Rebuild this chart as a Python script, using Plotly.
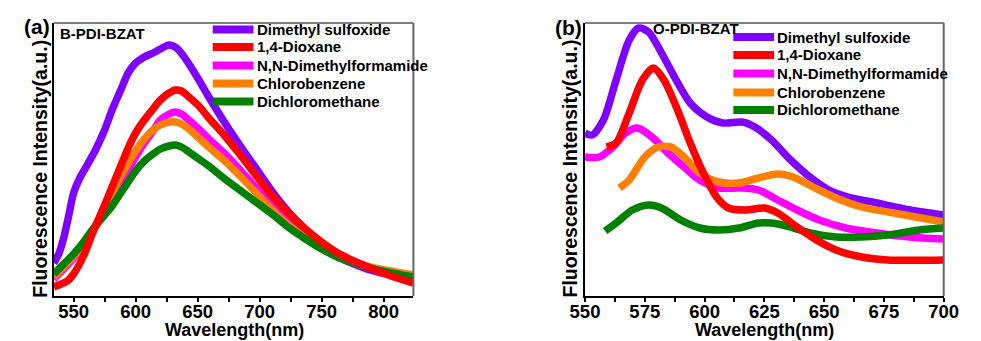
import plotly.graph_objects as go

W, H = 981, 341

# ---------------- data: panel (a) B-PDI-BZAT ----------------
a_dmso_wl = [534, 538, 542, 546, 550, 555, 561, 568, 575, 581, 588, 594, 600, 607, 614, 620, 627, 633, 638, 643, 651, 659, 672, 685, 698, 711, 724, 737, 750, 763, 776, 789, 806, 824]
a_dmso = [33, 42, 58, 80, 103, 118, 131, 147, 166, 186, 206, 223, 233, 239, 243, 247, 251, 248, 241, 232, 216, 199, 173, 149, 126, 103, 83, 66, 51, 39, 32, 26, 21, 18]

a_diox_wl = [534, 540, 545, 550, 558, 565, 574, 581, 588, 594, 600, 607, 614, 620, 627, 632, 637, 643, 651, 659, 672, 685, 698, 711, 724, 737, 750, 763, 776, 789, 806, 824]
a_diox = [9, 12, 15, 22, 40, 62, 88, 109, 130, 148, 163, 176, 187, 196, 203, 206, 205, 199, 190, 178, 160, 140, 119, 99, 82, 67, 54, 43, 35, 28, 20, 13]

a_dmf_wl = [534, 542, 550, 558, 565, 573, 581, 588, 594, 600, 607, 614, 620, 627, 632, 637, 643, 651, 659, 672, 685, 698, 711, 724, 737, 750, 763, 789, 824]
a_dmf = [17, 27, 38, 51, 64, 81, 99, 114, 126, 139, 153, 165, 176, 182, 184, 182, 176, 167, 157, 142, 125, 107, 89, 74, 60, 48, 39, 28, 17]

a_cb_wl = [534, 542, 550, 558, 565, 573, 581, 588, 594, 600, 607, 614, 620, 627, 632, 637, 643, 651, 659, 672, 685, 698, 711, 724, 737, 750, 763, 789, 824]
a_cb = [19, 29, 40, 52, 65, 83, 103, 120, 133, 145, 157, 166, 171, 174, 174, 172, 167, 158, 149, 135, 119, 102, 85, 70, 58, 48, 40, 29, 21]

a_dcm_wl = [534, 542, 550, 558, 565, 573, 581, 588, 594, 600, 607, 614, 620, 627, 632, 637, 643, 651, 659, 672, 685, 698, 711, 724, 737, 750, 763, 789, 824]
a_dcm = [22, 32, 42, 54, 66, 78, 90, 103, 114, 125, 135, 142, 147, 150, 151, 149, 144, 137, 130, 117, 105, 93, 81, 68, 57, 47, 39, 28, 19]

# ---------------- data: panel (b) O-PDI-BZAT ----------------
b_dmso_wl = [550, 553, 557.7, 563, 568.5, 572.5, 576.6, 582, 587.4, 594, 601, 607.6, 615.7, 621, 628, 636, 644, 652, 660, 672, 686, 700]
b_dmso = [163, 161, 176, 216, 256, 268, 264, 243, 219, 193, 179, 173, 174, 169, 156, 136, 119, 106, 99, 93, 86, 81]

b_diox_wl = [559, 563, 568.5, 574, 578.6, 583, 588.7, 594, 599.5, 605, 610, 617, 625, 630.6, 638.7, 646.8, 655, 665.7, 676.5, 700]
b_diox = [149, 153, 183, 216, 228, 216, 186, 153, 123, 99, 88, 86, 88, 83, 69, 56, 46, 39, 36, 36]

b_dmf_wl = [550, 556, 561.7, 567, 572, 578, 584.7, 591.4, 598, 606, 614.4, 622.5, 630.6, 638.7, 648, 659, 672, 686, 700]
b_dmf = [139, 139, 149, 163, 168, 159, 143, 129, 116, 108, 108, 106, 96, 86, 76, 68, 63, 59, 57]

b_cb_wl = [564.4, 568.5, 575, 580.6, 586, 591.4, 598, 606, 614.4, 622.5, 630.6, 637, 645.4, 655, 665.7, 679, 700]
b_cb = [108, 116, 139, 149, 149, 139, 123, 114, 113, 118, 122, 119, 109, 98, 89, 83, 74]

b_dcm_wl = [558.4, 563, 569.8, 576.6, 582, 590, 598, 606, 614.4, 622.5, 628, 636, 644, 655, 665.7, 676.5, 690, 700]
b_dcm = [65, 73, 86, 91, 88, 76, 68, 66, 68, 73, 73, 69, 63, 59, 59, 61, 66, 68]

solvents = ["Dimethyl sulfoxide", "1,4-Dioxane", "N,N-Dimethylformamide", "Chlorobenzene", "Dichloromethane"]
colors = ["#7F00FF", "#FF0000", "#FF00FF", "#FF8000", "#008000"]

panel_a = [(a_dmso_wl, a_dmso), (a_diox_wl, a_diox), (a_dmf_wl, a_dmf), (a_cb_wl, a_cb), (a_dcm_wl, a_dcm)]
panel_b = [(b_dmso_wl, b_dmso), (b_diox_wl, b_diox), (b_dmf_wl, b_dmf), (b_cb_wl, b_cb), (b_dcm_wl, b_dcm)]

# draw order: dioxane last so it sits on top
order = [0, 2, 3, 4, 1]

FONT = "Liberation Sans, Arial, sans-serif"


def px(x):
    return x / W


def py(y):
    return 1 - y / H


fig = go.Figure()
for i in order:
    wl, val = panel_a[i]
    fig.add_trace(go.Scatter(x=wl, y=val, mode="lines", line=dict(color=colors[i], width=7.5, shape="spline", smoothing=0.8),
                             xaxis="x", yaxis="y", showlegend=False, name=solvents[i]))
for i in order:
    wl, val = panel_b[i]
    fig.add_trace(go.Scatter(x=wl, y=val, mode="lines", line=dict(color=colors[i], width=7.5, shape="spline", smoothing=0.8),
                             xaxis="x2", yaxis="y2", showlegend=False, name=solvents[i]))

ydom = [py(296), py(23)]
tickfont = dict(family=FONT, size=18.5, color="black", weight="bold")
xcommon = dict(showline=True, linecolor="black", linewidth=1.5, ticks="outside", ticklen=4, tickwidth=1.5,
               tickcolor="black", showgrid=False, zeroline=False, tickfont=tickfont, ticklabelstandoff=-6)
ycommon = dict(showline=True, linecolor="black", linewidth=1.5, ticks="", showticklabels=False,
               showgrid=False, zeroline=False, range=[0, 273], domain=ydom)

fig.update_layout(
    width=W, height=H, margin=dict(l=0, r=0, t=0, b=0),
    paper_bgcolor="white", plot_bgcolor="white",
    xaxis=dict(domain=[px(40), px(411)], range=[534, 824], tick0=550, dtick=50,
               minor=dict(ticks="outside", ticklen=4, tickwidth=1.5, tickcolor="black", dtick=25), anchor="y", **xcommon),
    yaxis=dict(anchor="x", **ycommon),
    xaxis2=dict(domain=[px(588), px(958)], range=[550, 700], tick0=550, dtick=25,
                minor=dict(ticks="outside", ticklen=4, tickwidth=1.5, tickcolor="black", dtick=12.5), anchor="y2", **xcommon),
    yaxis2=dict(anchor="x2", **ycommon),
)

shapes = []
annotations = []
for xr, yr in [("x", "y"), ("x2", "y2")]:
    shapes.append(dict(type="line", xref=f"{xr} domain", yref=f"{yr} domain", x0=0, x1=1, y0=1, y1=1,
                       line=dict(color="black", width=1.2)))
    shapes.append(dict(type="line", xref=f"{xr} domain", yref=f"{yr} domain", x0=1, x1=1, y0=0, y1=1,
                       line=dict(color="#666666", width=2)))

# legend keys and labels, one block per panel
legend_blocks = [dict(x0=204, x1=246, tx=248, rows=[29.5, 47, 65.5, 83.5, 101.5]),
                 dict(x0=741, x1=783, tx=784, rows=[37, 55, 73.5, 92.5, 110])]
for blk in legend_blocks:
    for k, name in enumerate(solvents):
        yy = blk["rows"][k]
        shapes.append(dict(type="line", xref="paper", yref="paper", x0=px(blk["x0"]), x1=px(blk["x1"]),
                           y0=py(yy), y1=py(yy), line=dict(color=colors[k], width=8)))
        annotations.append(dict(text=name, xref="paper", yref="paper", x=px(blk["tx"]), y=py(yy),
                                xanchor="left", yanchor="middle", showarrow=False,
                                font=dict(family=FONT, size=15, color="black", weight="bold")))

# axis titles, panel tags and sample names
for cx in [226, 773]:
    annotations.append(dict(text="Wavelength(nm)", xref="paper", yref="paper", x=px(cx), y=py(330),
                            xanchor="center", yanchor="middle", showarrow=False,
                            font=dict(family=FONT, size=18, color="black", weight="bold")))
for cx, cy in [(25, 168.5), (572, 169)]:
    annotations.append(dict(text="Fluorescence Intensity(a.u.)", xref="paper", yref="paper", x=px(cx), y=py(cy),
                            xanchor="center", yanchor="middle", textangle=-90, showarrow=False,
                            font=dict(family=FONT, size=19.5, color="black", weight="bold")))
for txt, cx, cy in [("(a)", 23, 26), ("(b)", 571, 27)]:
    annotations.append(dict(text=txt, xref="paper", yref="paper", x=px(cx), y=py(cy),
                            xanchor="center", yanchor="middle", showarrow=False,
                            font=dict(family=FONT, size=21, color="black", weight="bold")))
for txt, cx, cy in [("B-PDI-BZAT", 90, 33.5), ("O-PDI-BZAT", 702, 28.5)]:
    annotations.append(dict(text=txt, xref="paper", yref="paper", x=px(cx), y=py(cy),
                            xanchor="center", yanchor="middle", showarrow=False,
                            font=dict(family=FONT, size=15, color="black", weight="bold")))

fig.update_layout(shapes=shapes, annotations=annotations)
fig.write_html("out.html")
